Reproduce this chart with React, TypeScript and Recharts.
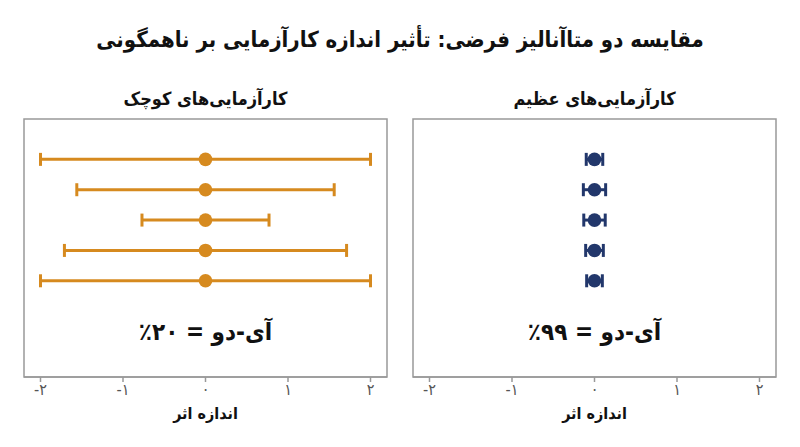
import {
  ScatterChart,
  Scatter,
  XAxis,
  YAxis,
  ErrorBar,
  ReferenceArea,
  ReferenceDot
} from "recharts";

// rows from top to bottom
const rows = [5, 4, 3, 2, 1];

const smallEffects = [0, 0, 0, 0, 0];
const smallErrors = [2.0, 1.56, 0.77, 1.71, 2.0];

const largeEffects = [0, 0, 0, 0, 0];
const largeErrors = [0.1, 0.135, 0.13, 0.107, 0.095];

const xTicks = [-2, -1, 0, 1, 2];
const xTickLabels = ["-۲", "-۱", "۰", "۱", "۲"];

const mainTitle =
  "مقایسه دو متاآنالیز فرضی: تأثیر اندازه کارآزمایی بر ناهمگونی";
const smallTitle = "کارآزمایی‌های کوچک";
const largeTitle = "کارآزمایی‌های عظیم";
const xLabel = "اندازه اثر";
const smallI2 = "آی-دو = ۲۰٪";
const largeI2 = "آی-دو = ۹۹٪";

const X_DOMAIN: [number, number] = [-2.2, 2.2];
const Y_DOMAIN: [number, number] = [-2.17, 6.33];
const I2_Y = -0.69;

const FONT = "'DejaVu Sans Condensed', 'DejaVu Sans', sans-serif";

function buildRows(effects: number[], errors: number[]) {
  return rows.map((r, i) => ({
    y: r,
    x: effects[i],
    err: errors[i]
  }));
}

interface PanelProps {
  title: string;
  i2: string;
  effects: number[];
  errors: number[];
  color: string;
  left: number;
  margin: any;
}

function Panel({ title, i2, effects, errors, color, left, margin }: PanelProps) {
  const data = buildRows(effects, errors);

  return (
    <div style={{ position: "absolute", left, top: 0 }}>
      <ScatterChart
        width={400}
        height={447}
        margin={margin}
        style={{ fontFamily: FONT }}
      >
        <XAxis
          type="number"
          dataKey="x"
          domain={X_DOMAIN}
          ticks={xTicks}
          tickFormatter={(v: number) => xTickLabels[xTicks.indexOf(v)]}
          allowDataOverflow
          height={50}
          axisLine={{ stroke: "#999", strokeWidth: 1.5 }}
          tickLine={{ stroke: "#999", strokeWidth: 1.5 }}
          tickSize={5}
          tick={{ fill: "#555", fontSize: 16 }}
          label={{
            value: xLabel,
            position: "insideBottom",
            offset: 8,
            fill: "#111",
            fontSize: 16,
            fontWeight: "bold"
          }}
        />

        <YAxis
          type="number"
          dataKey="y"
          domain={Y_DOMAIN}
          allowDataOverflow
          hide
        />

        <ReferenceArea
          x1={X_DOMAIN[0]}
          x2={X_DOMAIN[1]}
          y1={Y_DOMAIN[0]}
          y2={Y_DOMAIN[1]}
          fill="none"
          stroke="#999"
          strokeWidth={1.5}
          label={{
            value: title,
            position: "top",
            offset: 14,
            fill: "#111",
            fontSize: 18,
            fontWeight: "bold"
          }}
        />

        <ReferenceDot
          x={0}
          y={I2_Y}
          r={0}
          shape={(p: any) => (
            <text
              x={p.cx}
              y={p.cy}
              direction="rtl"
              textAnchor="middle"
              dominantBaseline="central"
              fill="#111"
              fontSize={24}
              fontWeight="bold"
            >
              {i2}
            </text>
          )}
        />

        <Scatter
          data={data}
          fill={color}
          isAnimationActive={false}
          shape={(p: any) => (
            <circle cx={p.cx} cy={p.cy} r={6.8} fill={color} />
          )}
        >
          <ErrorBar
            dataKey="err"
            direction="x"
            width={6.5}
            strokeWidth={3}
            stroke={color}
          />
        </Scatter>
      </ScatterChart>
    </div>
  );
}

export default function App() {
  return (
    <div
      style={{
        position: "absolute",
        left: 0,
        top: 0,
        width: 800,
        height: 447,
        background: "#fff",
        fontFamily: FONT
      }}
    >
      <div
        dir="rtl"
        style={{
          position: "absolute",
          left: 0,
          top: 27,
          width: 800,
          textAlign: "center",
          fontSize: 22,
          fontWeight: "bold",
          color: "#111"
        }}
      >
        {mainTitle}
      </div>

      <Panel
        title={smallTitle}
        i2={smallI2}
        effects={smallEffects}
        errors={smallErrors}
        color="#D68A1F"
        left={0}
        margin={{ top: 119, left: 24, right: 13, bottom: 20 }}
      />

      <Panel
        title={largeTitle}
        i2={largeI2}
        effects={largeEffects}
        errors={largeErrors}
        color="#22376B"
        left={400}
        margin={{ top: 119, left: 13, right: 24, bottom: 20 }}
      />
    </div>
  );
}
